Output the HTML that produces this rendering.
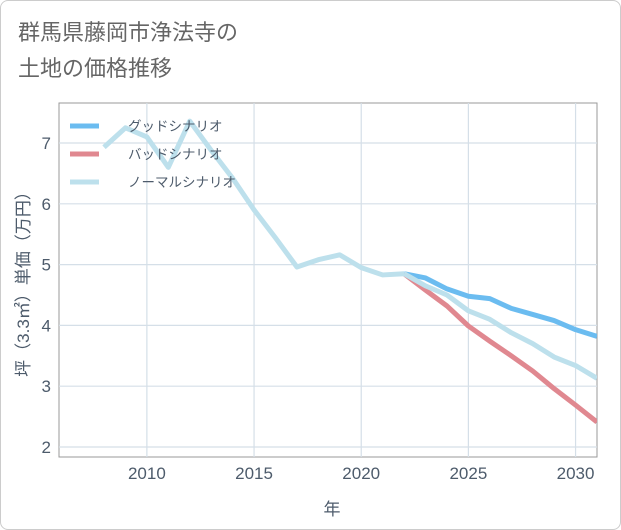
<!DOCTYPE html>
<html><head><meta charset="utf-8"><style>
body{margin:0;background:#fff;font-family:"Liberation Sans","Noto Sans CJK JP",sans-serif;}
#wrap{position:relative;width:619px;height:528px;border:1px solid #ccc;border-radius:8px;background:#fff;}
#title{position:absolute;left:17px;top:14px;font-size:22px;line-height:36px;color:#666;}
</style></head><body>
<div id="wrap">
<div id="title">群馬県藤岡市浄法寺の<br>土地の価格推移</div>
<svg id="chart" width="621" height="530" style="position:absolute;left:-1px;top:-1px"></svg>
</div>
<script>
const years=[2008,2009,2010,2011,2012,2013,2014,2015,2016,2017,2018,2019,2020,2021,2022];
const normalHist=[6.93,7.25,7.1,6.6,7.36,6.88,6.42,5.9,5.44,4.96,5.08,5.16,4.95,4.83,4.85];
const futureYears=[2022,2023,2024,2025,2026,2027,2028,2029,2030,2031];
const goodVals=[4.85,4.78,4.6,4.48,4.44,4.28,4.18,4.08,3.93,3.82];
const badVals=[4.85,4.58,4.32,3.99,3.74,3.5,3.25,2.96,2.69,2.41];
const normalFuture=[4.85,4.65,4.5,4.24,4.1,3.88,3.7,3.48,3.34,3.13];
const yTicks=[2,3,4,5,6,7];
const xTicks=[2010,2015,2020,2025,2030];
const legendLabels=["グッドシナリオ","バッドシナリオ","ノーマルシナリオ"];
const legendColors=["#6bbcf0","#e08890","#bde0ec"];

const L=59,R=597,T=103,B=457;
const x=v=>L+(v-2005.9)/(2031-2005.9)*(R-L);
const y=v=>447-(v-2)*60.8;
const svg=document.getElementById('chart');
const NS='http://www.w3.org/2000/svg';
function mk(t,a){const e=document.createElementNS(NS,t);for(const k in a)e.setAttribute(k,a[k]);svg.appendChild(e);return e;}
let e=mk('rect',{x:L,y:T,width:R-L,height:B-T,fill:'none',stroke:'#999','stroke-width':1});


yTicks.forEach(v=>{
 let g=mk('line',{x1:L,x2:R,y1:y(v),y2:y(v),stroke:'#d5dfe8','stroke-width':1.2});
 
 
 let t=mk('text',{x:L-8,y:y(v)+6,'text-anchor':'end','font-size':17,fill:'#4d5b6b'});t.textContent=v;
 
 
});
xTicks.forEach(v=>{
 let g=mk('line',{x1:x(v),x2:x(v),y1:T,y2:B,stroke:'#d5dfe8','stroke-width':1.2});
 
 
 let t=mk('text',{x:x(v),y:479,'text-anchor':'middle','font-size':17,fill:'#4d5b6b'});t.textContent=v;
 
 
});
let xt=mk('text',{x:332,y:515,'text-anchor':'middle','font-size':17,fill:'#4d5b6b'});xt.textContent='年';


let yt=mk('text',{x:0,y:0,'text-anchor':'middle','font-size':17,fill:'#4d5b6b',transform:'translate(29,280) rotate(-90)'});yt.textContent='坪（3.3㎡）単価（万円）';


const clip=mk('clipPath',{id:'c'});const cr=document.createElementNS(NS,'rect');
cr.setAttribute('x',L);cr.setAttribute('y',T);cr.setAttribute('width',R-L);cr.setAttribute('height',B-T);clip.appendChild(cr);
function line(xs,vs,c,name){
 let p=mk('polyline',{points:xs.map((v,i)=>x(v)+','+y(vs[i])).join(' '),fill:'none',stroke:c,'stroke-width':5,'stroke-linejoin':'round','clip-path':'url(#c)'});
 
 
}
line(futureYears,goodVals,legendColors[0],'good-scenario-line');
line(futureYears,badVals,legendColors[1],'bad-scenario-line');
line(years,normalHist,legendColors[2],'normal-history-line');
line(futureYears,normalFuture,legendColors[2],'normal-scenario-line');
legendLabels.forEach((s,i)=>{
 const yy=126+i*28;
 let l=mk('line',{x1:70,x2:99,y1:yy,y2:yy,stroke:legendColors[i],'stroke-width':5});
 
 
 let t=mk('text',{x:128,y:yy+5,'font-size':13.5,fill:'#4d5b6b'});t.textContent=s;
 
 
});
</script>
</body></html>
